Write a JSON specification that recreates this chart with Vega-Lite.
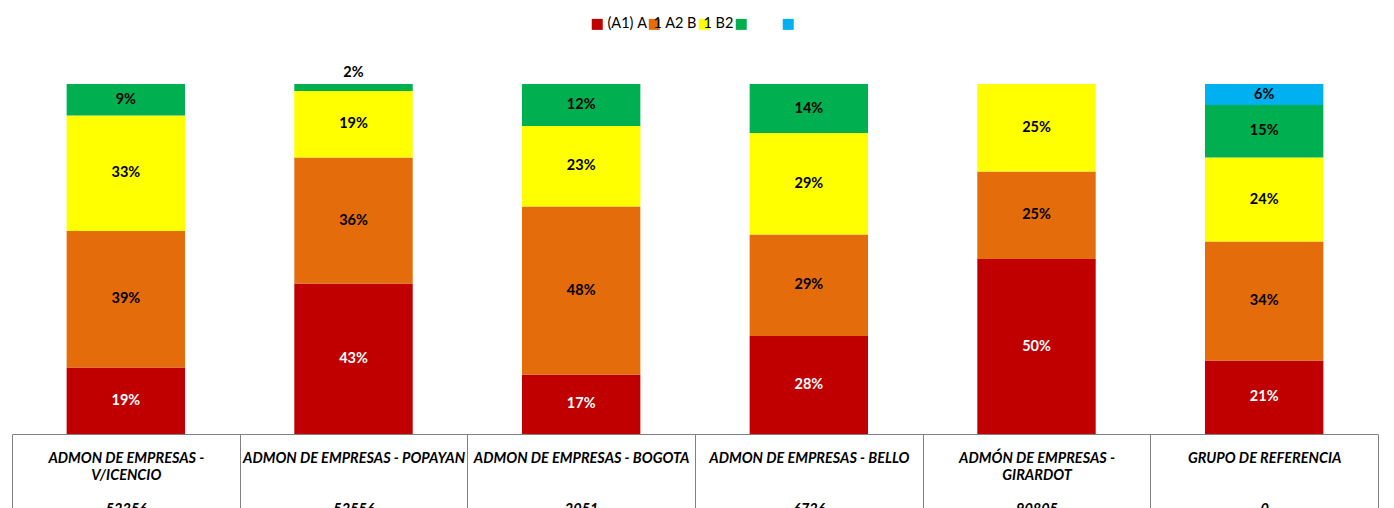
{
  "$schema": "https://vega.github.io/schema/vega-lite/v6.json",
  "width": 1366,
  "height": 350,
  "autosize": {"type": "none"},
  "padding": {"left": 12, "top": 84, "right": 16, "bottom": 74},
  "background": "white",
  "config": {"view": {"stroke": null}},
  "data": {
    "values": [
      {"programa": "ADMON DE EMPRESAS - V/ICENCIO", "nivel": "(A1)", "pct": 19},
      {"programa": "ADMON DE EMPRESAS - V/ICENCIO", "nivel": "A1", "pct": 39},
      {"programa": "ADMON DE EMPRESAS - V/ICENCIO", "nivel": "A2", "pct": 33},
      {"programa": "ADMON DE EMPRESAS - V/ICENCIO", "nivel": "B1", "pct": 9},
      {"programa": "ADMON DE EMPRESAS - POPAYAN", "nivel": "(A1)", "pct": 43},
      {"programa": "ADMON DE EMPRESAS - POPAYAN", "nivel": "A1", "pct": 36},
      {"programa": "ADMON DE EMPRESAS - POPAYAN", "nivel": "A2", "pct": 19},
      {"programa": "ADMON DE EMPRESAS - POPAYAN", "nivel": "B1", "pct": 2},
      {"programa": "ADMON DE EMPRESAS - BOGOTA", "nivel": "(A1)", "pct": 17},
      {"programa": "ADMON DE EMPRESAS - BOGOTA", "nivel": "A1", "pct": 48},
      {"programa": "ADMON DE EMPRESAS - BOGOTA", "nivel": "A2", "pct": 23},
      {"programa": "ADMON DE EMPRESAS - BOGOTA", "nivel": "B1", "pct": 12},
      {"programa": "ADMON DE EMPRESAS - BELLO", "nivel": "(A1)", "pct": 28},
      {"programa": "ADMON DE EMPRESAS - BELLO", "nivel": "A1", "pct": 29},
      {"programa": "ADMON DE EMPRESAS - BELLO", "nivel": "A2", "pct": 29},
      {"programa": "ADMON DE EMPRESAS - BELLO", "nivel": "B1", "pct": 14},
      {"programa": "ADMÓN DE EMPRESAS - GIRARDOT", "nivel": "(A1)", "pct": 50},
      {"programa": "ADMÓN DE EMPRESAS - GIRARDOT", "nivel": "A1", "pct": 25},
      {"programa": "ADMÓN DE EMPRESAS - GIRARDOT", "nivel": "A2", "pct": 25},
      {"programa": "GRUPO DE REFERENCIA", "nivel": "(A1)", "pct": 21},
      {"programa": "GRUPO DE REFERENCIA", "nivel": "A1", "pct": 34},
      {"programa": "GRUPO DE REFERENCIA", "nivel": "A2", "pct": 24},
      {"programa": "GRUPO DE REFERENCIA", "nivel": "B1", "pct": 15},
      {"programa": "GRUPO DE REFERENCIA", "nivel": "B2", "pct": 6}
    ]
  },
  "transform": [
    {"calculate": "indexof(['(A1)','A1','A2','B1','B2'], datum.nivel)", "as": "ord"},
    {"stack": "pct", "groupby": ["programa"], "sort": [{"field": "ord", "order": "ascending"}], "as": ["y0", "y1"]},
    {"calculate": "datum.pct < 5 ? datum.y1 + 3.2 : (datum.y0 + datum.y1) / 2", "as": "ymid"},
    {"calculate": "datum.pct + '%'", "as": "lbl"}
  ],
  "encoding": {
    "x": {
      "field": "programa",
      "type": "nominal",
      "sort": null,
      "scale": {"paddingInner": 0, "paddingOuter": 0},
      "axis": {
        "title": null,
        "orient": "bottom",
        "domainColor": "#808080",
        "domainWidth": 1,
        "tickBand": "extent",
        "tickColor": "#808080",
        "tickSize": 80,
        "tickWidth": 1,
        "labelAngle": 0,
        "labelFont": "Lato",
        "labelFontStyle": "italic",
        "labelFontWeight": "bold",
        "labelFontSize": 14.5,
        "labelColor": "#000000",
        "labelBaseline": "top",
        "labelPadding": -63,
        "labelLineHeight": 17,
        "labelLimit": 400,
        "labelOverlap": false,
        "labelBound": false,
        "labelFlush": false,
        "labelExpr": "{'ADMON DE EMPRESAS - V/ICENCIO': ['ADMON DE EMPRESAS -', 'V/ICENCIO', '\u2800', '52356'], 'ADMON DE EMPRESAS - POPAYAN': ['ADMON DE EMPRESAS - POPAYAN', '\u2800', '\u2800', '52556'], 'ADMON DE EMPRESAS - BOGOTA': ['ADMON DE EMPRESAS - BOGOTA', '\u2800', '\u2800', '2051'], 'ADMON DE EMPRESAS - BELLO': ['ADMON DE EMPRESAS - BELLO', '\u2800', '\u2800', '6726'], 'ADMÓN DE EMPRESAS - GIRARDOT': ['ADMÓN DE EMPRESAS -', 'GIRARDOT', '\u2800', '90805'], 'GRUPO DE REFERENCIA': ['GRUPO DE REFERENCIA', '\u2800', '\u2800', '0']}[datum.value]"
      }
    }
  },
  "layer": [
    {
      "mark": {"type": "bar", "width": {"band": 0.52}},
      "encoding": {
        "y": {"field": "y0", "type": "quantitative", "scale": {"domain": [0, 100]}, "axis": null},
        "y2": {"field": "y1"},
        "color": {
          "field": "nivel",
          "type": "nominal",
          "scale": {"domain": ["(A1)", "A1", "A2", "B1", "B2"], "range": ["#C00000", "#E46C0A", "#FFFF00", "#00B050", "#00B0F0"]},
          "legend": {
            "title": null,
            "orient": "none",
            "legendX": 578,
            "legendY": -67,
            "direction": "horizontal",
            "symbolType": "square",
            "symbolSize": 121,
            "symbolStrokeWidth": 0,
            "symbolOpacity": 1,
            "labelFont": "Lato",
            "labelFontSize": 14.5,
            "labelColor": "#000000",
            "labelOffset": -8,
            "columnPadding": 0,
            "labelLimit": 300,
            "labelExpr": "{'(A1)': '\u2800(A1) A', 'A1': '1 A2 B', 'A2': '1 B2', 'B1': '\u2800 \u2800 \u2800', 'B2': ''}[datum.value]"
          }
        }
      }
    },
    {
      "mark": {"type": "text", "font": "Lato", "fontWeight": "bold", "fontSize": 14.5, "baseline": "middle", "align": "center", "clip": false},
      "encoding": {
        "y": {"field": "ymid", "type": "quantitative"},
        "text": {"field": "lbl", "type": "nominal"},
        "color": {"condition": {"test": "datum.nivel === '(A1)'", "value": "#FFFFFF"}, "value": "#000000"}
      }
    }
  ]
}
